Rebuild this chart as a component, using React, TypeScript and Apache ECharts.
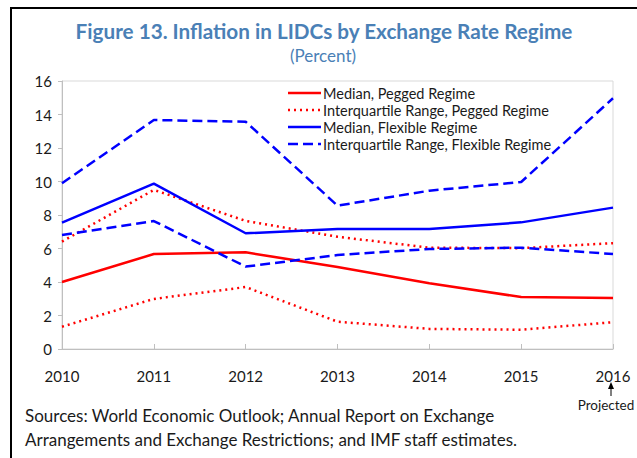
import React, { useEffect, useRef } from "react";
import * as echarts from "echarts";

const years = ["2010", "2011", "2012", "2013", "2014", "2015", "2016"];
const yTicks = { min: 0, max: 16, interval: 2 };

const medianPegged = [4.0, 5.67, 5.77, 4.9, 3.93, 3.1, 3.05];
const iqrPeggedLow = [1.33, 2.99, 3.7, 1.63, 1.2, 1.15, 1.6];
const iqrPeggedHigh = [6.41, 9.5, 7.65, 6.7, 6.05, 6.02, 6.32];
const medianFlexible = [7.54, 9.87, 6.91, 7.16, 7.16, 7.56, 8.44];
const iqrFlexibleHigh = [9.9, 13.67, 13.57, 8.56, 9.45, 9.97, 14.97];
const iqrFlexibleLow = [6.81, 7.64, 4.92, 5.61, 5.97, 6.05, 5.67];

const names = [
  "Median, Pegged Regime",
  "Interquartile Range, Pegged Regime",
  "Median, Flexible Regime",
  "Interquartile Range, Flexible Regime",
];

const titleText = "Figure 13. Inflation in LIDCs by Exchange Rate Regime";
const subtitleText = "(Percent)";
const sourceLines = [
  "Sources: World Economic Outlook; Annual Report on Exchange",
  "Arrangements and Exchange Restrictions; and IMF staff estimates.",
];

const FONT = "Lato, 'Open Sans', sans-serif";
const RED = "#ff0000";
const BLUE = "#0000ff";
const TITLE_COLOR = "#4a80b6";
const DOT: number[] = [2, 4];
const DASH: number[] = [10, 5];

export default function App() {
  const ref = useRef<HTMLDivElement>(null);
  useEffect(() => {
    document.body.style.margin = "0";
    const chart = echarts.init(ref.current!, null, { renderer: "svg" });
    const line = (name: string, data: number[], color: string, type: any, width = 2.5) => ({
      name,
      type: "line",
      data,
      symbol: "none",
      showSymbol: false,
      lineStyle: { color, width, type },
      itemStyle: { color },
      z: 3,
    });
    const legendStyles = [
      { color: RED, type: "solid" },
      { color: RED, type: DOT },
      { color: BLUE, type: "solid" },
      { color: BLUE, type: DASH },
    ];
    const legendY = [93, 110, 127, 144];
    const legendGraphics: any[] = [];
    names.forEach((n, i) => {
      const st = legendStyles[i];
      legendGraphics.push({
        type: "line",
        shape: { x1: 288, y1: legendY[i], x2: 321, y2: legendY[i] },
        style: {
          stroke: st.color,
          lineWidth: 2.5,
          lineDash: st.type === "solid" ? null : st.type,
        },
        z: 10,
      });
      legendGraphics.push({
        type: "text",
        x: 323,
        y: legendY[i],
        style: {
          text: n,
          fontSize: 14.5,
          fill: "#1a1a1a",
          fontFamily: FONT,
          verticalAlign: "middle",
        },
        z: 10,
      });
    });
    chart.setOption({
      animation: false,
      backgroundColor: "#ffffff",
      textStyle: { fontFamily: FONT },
      graphic: [
        {
          type: "rect",
          shape: { x: 11, y: 8, width: 700, height: 520 },
          style: { fill: "none", stroke: "#000000", lineWidth: 2 },
          silent: true,
        },
        {
          type: "text",
          x: 324,
          y: 31,
          style: {
            text: titleText,
            fontSize: 20.7,
            fontWeight: "bold",
            fill: TITLE_COLOR,
            fontFamily: FONT,
            align: "center",
            verticalAlign: "middle",
          },
        },
        {
          type: "text",
          x: 323,
          y: 55,
          style: {
            text: subtitleText,
            fontSize: 17,
            fill: TITLE_COLOR,
            fontFamily: FONT,
            align: "center",
            verticalAlign: "middle",
          },
        },
        ...legendGraphics,
        {
          type: "line",
          shape: { x1: 611, y1: 396, x2: 611, y2: 388 },
          style: { stroke: "#000000", lineWidth: 1 },
        },
        {
          type: "polygon",
          shape: { points: [[611, 382], [608, 389], [614, 389]] },
          style: { fill: "#000000" },
        },
        {
          type: "text",
          x: 606,
          y: 405,
          style: {
            text: "Projected",
            fontSize: 13.5,
            fill: "#1a1a1a",
            fontFamily: FONT,
            align: "center",
            verticalAlign: "middle",
          },
        },
        {
          type: "text",
          x: 25,
          y: 427,
          style: {
            text: sourceLines.join("\n"),
            fontSize: 17,
            lineHeight: 24,
            fill: "#1a1a1a",
            fontFamily: FONT,
            verticalAlign: "middle",
          },
        },
      ],
      grid: {
        left: 62,
        right: 24,
        top: 81,
        bottom: 109,
        show: true,
        borderColor: "#d9d9d9",
        borderWidth: 1,
      },
      xAxis: {
        type: "category",
        data: years,
        boundaryGap: false,
        axisLine: { lineStyle: { color: "#bfbfbf", width: 1 } },
        axisTick: { show: true, inside: true, length: 5, lineStyle: { color: "#bfbfbf" } },
        axisLabel: { color: "#1a1a1a", fontSize: 15, margin: 19, fontFamily: FONT },
        splitLine: { show: false },
      },
      yAxis: {
        type: "value",
        min: yTicks.min,
        max: yTicks.max,
        interval: yTicks.interval,
        axisLine: { show: true, lineStyle: { color: "#bfbfbf", width: 1 } },
        axisTick: { show: true, inside: false, length: 4, lineStyle: { color: "#bfbfbf" } },
        axisLabel: { color: "#1a1a1a", fontSize: 15, margin: 10, fontFamily: FONT },
        splitLine: { show: false },
      },
      series: [
        line(names[0], medianPegged, RED, "solid"),
        line(names[1], iqrPeggedHigh, RED, DOT),
        line(names[2], medianFlexible, BLUE, "solid"),
        line(names[3], iqrFlexibleHigh, BLUE, DASH),
        line(names[1], iqrPeggedLow, RED, DOT),
        line(names[3], iqrFlexibleLow, BLUE, DASH),
      ],
    });
    return () => chart.dispose();
  }, []);
  return (
    <div
      ref={ref}
      style={{ position: "absolute", left: 0, top: 0, width: 637, height: 458 }}
    />
  );
}
